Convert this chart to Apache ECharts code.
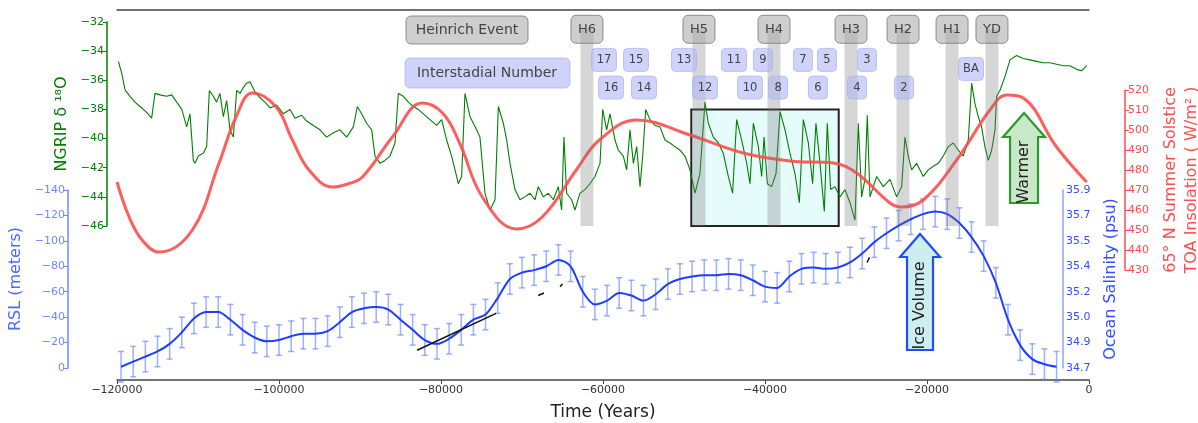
<!DOCTYPE html>
<html><head><meta charset="utf-8">
<script src="https://cdn.jsdelivr.net/npm/echarts@6/dist/echarts.min.js"></script>
<style>html,body{margin:0;padding:0;background:#fff}#c{width:1198px;height:423px}</style>
</head><body><div id="c"></div>
<script>
// ---------- DATA ----------
const ngripYears = [-119830,-119424,-119010,-118400,-117780,-117160,-116340,-115720,-115310,-114690,-113870,-113250,-112630,-112000,-111400,-110990,-110780,-110580,-110370,-109960,-109340,-108930,-108600,-108110,-107700,-107290,-106870,-106460,-106050,-105640,-105230,-104820,-104400,-104000,-103580,-102960,-102350,-101730,-101110,-100290,-99470,-98640,-98030,-97200,-96590,-95760,-94940,-94120,-93290,-92470,-91650,-90820,-90330,-89800,-89180,-88560,-88150,-87530,-86920,-86300,-85680,-85270,-84650,-84030,-83420,-82800,-82180,-81360,-80540,-79920,-79300,-78690,-78270,-77860,-77450,-77040,-76420,-75600,-75190,-74570,-73950,-73330,-72920,-72300,-71890,-71480,-70870,-70250,-69630,-69010,-68400,-67990,-67370,-66750,-66130,-65520,-65110,-64820,-64490,-63870,-63460,-62840,-62230,-61610,-60990,-60370,-60040,-59550,-59140,-58520,-58110,-57490,-57080,-56670,-56250,-55840,-55430,-55100,-54730,-54200,-53580,-52960,-52350,-51730,-51110,-50500,-49880,-49260,-48640,-48030,-47410,-47000,-46380,-45760,-45150,-44530,-44000,-43500,-42880,-42260,-41850,-41440,-40820,-40410,-40120,-39710,-39180,-38640,-38150,-37530,-36920,-36300,-35760,-35270,-34650,-34120,-33710,-33210,-32680,-32310,-31900,-31360,-30740,-30130,-29510,-28890,-28480,-28070,-27660,-27370,-27040,-26220,-25400,-24570,-23750,-23130,-22720,-22310,-21900,-21280,-20460,-19840,-19220,-18610,-17990,-17370,-16750,-16140,-15520,-14900,-14490,-14080,-13670,-13260,-12850,-12430,-12020,-11610,-11400,-11000,-10370,-9760,-8930,-8110,-7290,-6470,-5640,-4820,-4000,-3170,-2350,-1530,-910,-290];
const ngripValues = [-34.7,-35.5,-36.66,-37.1,-37.5,-37.8,-38.2,-38.6,-36.9,-37.0,-37.1,-37.0,-37.5,-38.0,-39.2,-38.3,-39.9,-41.5,-41.7,-41.2,-41.0,-40.55,-36.7,-37.1,-37.5,-36.9,-38.5,-37.4,-39.4,-39.9,-36.7,-36.9,-36.5,-36.2,-36.1,-36.8,-37.2,-37.5,-37.9,-37.7,-38.3,-38.0,-38.6,-38.4,-38.8,-39.1,-39.4,-39.9,-39.6,-39.4,-39.9,-39.2,-37.8,-38.3,-38.95,-39.4,-41.2,-41.7,-41.5,-41.2,-40.3,-36.9,-37.1,-37.5,-37.8,-38.0,-38.3,-38.7,-39.1,-38.7,-40.1,-41.2,-42.15,-43.1,-42.6,-36.9,-38.5,-39.4,-39.9,-43.75,-44.9,-44.2,-37.8,-38.95,-40.1,-41.7,-43.5,-44.2,-44.0,-43.75,-44.2,-43.3,-44.0,-43.75,-44.2,-43.3,-44.9,-39.9,-43.75,-44.2,-44.9,-43.75,-43.5,-43.1,-42.6,-41.7,-38.0,-39.4,-38.3,-40.1,-40.8,-41.2,-42.15,-39.4,-41.7,-40.55,-43.3,-41.2,-38.0,-38.7,-39.1,-39.2,-40.1,-40.3,-40.55,-40.8,-41.2,-42.15,-43.75,-42.4,-37.5,-38.95,-39.9,-40.3,-41.0,-42.6,-43.75,-38.7,-40.1,-41.7,-43.1,-38.95,-40.55,-42.6,-39.9,-43.1,-43.3,-42.4,-38.15,-39.4,-41.0,-42.4,-44.4,-38.7,-40.3,-43.1,-38.95,-41.7,-45.0,-38.95,-43.5,-43.3,-44.0,-43.5,-44.4,-45.6,-38.95,-44.0,-42.8,-38.4,-44.0,-42.6,-43.3,-42.8,-44.0,-43.3,-39.9,-41.2,-42.15,-41.7,-42.6,-42.15,-41.9,-41.7,-41.2,-40.55,-40.3,-40.8,-41.2,-40.1,-36.2,-37.6,-38.5,-39.2,-40.55,-41.5,-40.8,-39.4,-37.1,-36.7,-35.75,-34.6,-34.3,-34.5,-34.6,-34.7,-34.8,-34.8,-34.9,-35.0,-35.0,-35.25,-35.35,-35.0];

const insolYears = [-120000,-118500,-116900,-114800,-110700,-107400,-105300,-103300,-100350,-98350,-96300,-93400,-91500,-89700,-86000,-82300,-79800,-77700,-74900,-70700,-67500,-63300,-60450,-55850,-49260,-42680,-36900,-31570,-28690,-24570,-23130,-20460,-16340,-12230,-10170,-8110,-4000,-290];
const insolValues = [474,456.5,445,439,450,483.5,506.5,518.5,511.5,495,480,471.5,473,476.5,496.5,513.5,508.5,493.5,466.5,450.5,456.5,480,495,505,497.5,488.5,484.5,483.5,478.5,463.5,461.5,465,485,510,517.5,516,491.5,474];

const rslYears = [-119500,-118000,-116500,-115000,-113500,-112000,-110500,-109000,-107500,-106000,-104500,-103000,-101500,-100000,-98500,-97000,-95500,-94000,-92500,-91000,-89500,-88000,-86500,-85000,-83500,-82000,-80500,-79000,-77500,-76000,-74500,-73000,-71500,-70000,-68500,-67000,-65500,-64000,-62500,-61000,-59500,-58000,-56500,-55000,-53500,-52000,-50500,-49000,-47500,-46000,-44500,-43000,-41500,-40000,-38500,-37000,-35500,-34000,-32500,-31000,-29500,-28000,-26500,-25000,-23500,-22000,-20500,-19000,-17500,-16000,-14500,-13000,-11500,-10000,-8500,-7000,-5500,-4000];
const rslValues = [-1,-5,-9,-13,-19,-28,-39,-44,-44,-38,-30,-24,-21,-22,-25,-27,-27,-29,-36,-44,-47,-48,-46,-38,-30,-22,-19,-23,-30,-38,-42,-55,-70,-75,-77,-80,-85,-80,-60,-50,-53,-59,-57,-53,-58,-66,-70,-72,-73,-73,-74,-73,-69,-64,-63,-72,-78,-79,-78,-79,-83,-90,-99,-106,-112,-117,-121,-123,-121,-114,-103,-88,-67,-38,-18,-7,-3,-1];
const rslError = 12;

const salinityLabels = ['34.7','34.9','35.0','35.2','35.4','35.5','35.7','35.9'];

const heinrichNames = ['H6','H5','H4','H3','H2','H1','YD'];
const heinrichYears = [-61980,-48150,-38890,-29380,-22960,-16910,-11980];

const interstadialNames = ['17','15','13','11','9','7','5','3','16','14','12','10','8','6','4','2','BA'];
const interstadialYears = [-59880,-55930,-50000,-43830,-40250,-35310,-32350,-27410,-59010,-54940,-47410,-41850,-38390,-33460,-28640,-22840,-14570];
const interstadialRow = [1,1,1,1,1,1,1,1,2,2,2,2,2,2,2,2,3];

const boxYears = [-49100,-30900];
const boxNgrip = [-38,-46];

const blackSegments = [
  [[-82960,-14],[-73200,-43]],
  [[-68000,-57],[-67300,-59]],
  [[-65300,-64],[-65000,-66]],
  [[-27400,-83],[-27100,-87]]
];

// ---------- STYLE / LAYOUT ----------
const FONT = 'DejaVu Sans';
const L = 117, R = 109;
const GREEN = '#008000', RED = '#ff4d4d', BLUE = '#1f3cff';
const minus = v => String(v).replace('-', '\u2212');
const ROW_Y = {0: -32.5, 1: -34.6, 2: -36.5, 3: -35.22};
const BAND_HALF = 800;

const chart = echarts.init(document.getElementById('c'), null, {renderer: 'canvas'});

const hiddenX = i => ({type: 'value', gridIndex: i, min: -120000, max: 0, show: false});
const G = (top, height) => ({left: L, right: R, top: top, height: height, containLabel: false, outerBoundsMode: 'none'});

const option = {
  animation: false,
  textStyle: {fontFamily: FONT},
  grid: [G(22, 204), G(90, 180), G(190, 178), G(10, 370)],
  xAxis: [
    hiddenX(0), hiddenX(1), hiddenX(2),
    {type: 'value', gridIndex: 3, min: -120000, max: 0, interval: 20000, position: 'bottom',
      name: 'Time (Years)', nameLocation: 'middle', nameGap: 24,
      nameTextStyle: {fontSize: 17, color: '#222', fontFamily: FONT},
      axisLine: {onZero: false, lineStyle: {color: '#444', width: 1.5}},
      axisTick: {length: 4, lineStyle: {color: '#444'}},
      axisLabel: {fontSize: 11, color: '#333', margin: 5, formatter: minus, fontFamily: FONT},
      splitLine: {show: false}},
    {type: 'value', gridIndex: 3, min: -120000, max: 0, position: 'top',
      axisLine: {onZero: false, lineStyle: {color: '#444', width: 1.5}},
      axisTick: {show: false}, axisLabel: {show: false}, splitLine: {show: false}}
  ],
  yAxis: [
    {type: 'value', gridIndex: 0, min: -46, max: -32, interval: 2, position: 'left', offset: 10,
      name: 'NGRIP δ ¹⁸O', nameLocation: 'middle', nameRotate: 90, nameGap: 36,
      nameTextStyle: {fontSize: 16, color: GREEN, fontFamily: FONT},
      axisLine: {show: true, onZero: false, lineStyle: {color: GREEN, width: 1.5}},
      axisTick: {show: true, length: 4, lineStyle: {color: GREEN}},
      axisLabel: {fontSize: 11, color: GREEN, margin: 3, formatter: minus, fontFamily: FONT},
      splitLine: {show: false}},
    {type: 'value', gridIndex: 1, min: 430, max: 520, interval: 10, position: 'right', offset: 36,
      name: '65° N Summer Solstice\nTOA Insolation ( W/m² )', nameLocation: 'middle', nameRotate: 90, nameGap: 31,
      nameTextStyle: {fontSize: 16, color: RED, lineHeight: 21, fontFamily: FONT},
      axisLine: {show: true, onZero: false, lineStyle: {color: RED, width: 1.5}},
      axisTick: {show: true, length: 4, lineStyle: {color: RED}},
      axisLabel: {fontSize: 11, color: RED, margin: 3, fontFamily: FONT},
      splitLine: {show: false}},
    {type: 'value', gridIndex: 2, min: -140, max: 0, interval: 20, inverse: true, position: 'left', offset: 49,
      name: 'RSL (meters)', nameLocation: 'middle', nameRotate: 90, nameGap: 44,
      nameTextStyle: {fontSize: 16, color: '#4d6bff', fontFamily: FONT},
      axisLine: {show: true, onZero: false, lineStyle: {color: '#6f88ff', width: 1.5}},
      axisTick: {show: true, length: 4, lineStyle: {color: '#6f88ff'}},
      axisLabel: {fontSize: 11, color: '#6f88ff', margin: 3, formatter: minus, fontFamily: FONT},
      splitLine: {show: false}},
    {type: 'value', gridIndex: 2, min: -140, max: 0, interval: 20, inverse: true, position: 'right', offset: -26,
      name: 'Ocean Salinity (psu)', nameLocation: 'middle', nameRotate: 90, nameGap: 40,
      nameTextStyle: {fontSize: 16, color: '#3050ff', fontFamily: FONT},
      axisLine: {show: true, onZero: false, lineStyle: {color: '#8fa3ff', width: 1.5}},
      axisTick: {show: false},
      axisLabel: {fontSize: 11, color: '#3050ff', margin: 3, fontFamily: FONT,
        formatter: v => salinityLabels[Math.round(-v / 20)]},
      splitLine: {show: false}},
    {type: 'value', gridIndex: 3, show: false, min: 0, max: 1}
  ],
  series: [
    {type: 'line', name: 'ngrip', xAxisIndex: 0, yAxisIndex: 0, showSymbol: false, z: 2,
      data: ngripYears.map((y, i) => [y, ngripValues[i]]),
      lineStyle: {color: GREEN, width: 1.1},
      markArea: {silent: true, z: 1,
        itemStyle: {color: '#e6fcfc', borderColor: '#222', borderWidth: 2},
        data: [[{coord: [boxYears[0], boxNgrip[0]]}, {coord: [boxYears[1], boxNgrip[1]]}]]}},
    {type: 'line', name: 'insol', xAxisIndex: 1, yAxisIndex: 1, showSymbol: false, smooth: 0.4, z: 3,
      data: insolYears.map((y, i) => [y, insolValues[i]]),
      lineStyle: {color: RED, width: 3, opacity: 0.9}},
    {type: 'custom', name: 'rslErr', xAxisIndex: 2, yAxisIndex: 2, z: 3,
      data: rslYears.map((y, i) => [y, rslValues[i]]),
      renderItem: (params, api) => {
        const y = api.value(0), v = api.value(1);
        const a = api.coord([y, v - rslError]), b = api.coord([y, v + rslError]);
        const st = {stroke: 'rgba(90,125,255,0.6)', lineWidth: 1.5};
        return {type: 'group', children: [
          {type: 'line', shape: {x1: a[0], y1: a[1], x2: b[0], y2: b[1]}, style: st},
          {type: 'line', shape: {x1: a[0] - 3, y1: a[1], x2: a[0] + 3, y2: a[1]}, style: st},
          {type: 'line', shape: {x1: b[0] - 3, y1: b[1], x2: b[0] + 3, y2: b[1]}, style: st}
        ]};
      }},
    {type: 'line', name: 'rsl', xAxisIndex: 2, yAxisIndex: 2, showSymbol: false, smooth: 0.3, z: 4,
      data: rslYears.map((y, i) => [y, rslValues[i]]),
      lineStyle: {color: BLUE, width: 2}},
    ...blackSegments.map(seg => ({type: 'line', xAxisIndex: 2, yAxisIndex: 2, showSymbol: false, z: 5,
      data: seg, lineStyle: {color: '#111', width: 1.5}})),
    {type: 'custom', name: 'bands', xAxisIndex: 0, yAxisIndex: 0, z: 6,
      data: heinrichYears.map(y => [y]),
      renderItem: (params, api) => {
        const y = api.value(0);
        const a = api.coord([y - BAND_HALF, ROW_Y[0]]), b = api.coord([y + BAND_HALF, -46]);
        return {type: 'rect', shape: {x: a[0], y: a[1], width: b[0] - a[0], height: b[1] - a[1]},
          style: {fill: 'rgba(120,120,120,0.3)'}};
      }},
    {type: 'custom', name: 'hlabels', xAxisIndex: 0, yAxisIndex: 0, z: 7,
      data: heinrichYears.map((y, i) => [y, i]),
      renderItem: (params, api) => {
        const p = api.coord([api.value(0), ROW_Y[0]]);
        const w = 32, h = 28;
        return {type: 'group', children: [
          {type: 'rect', shape: {x: p[0] - w / 2, y: p[1] - h / 2, width: w, height: h, r: 5},
            style: {fill: 'rgba(165,165,165,0.55)', stroke: 'rgba(120,120,120,0.8)', lineWidth: 1}},
          {type: 'text', style: {text: heinrichNames[api.value(1)], x: p[0], y: p[1], align: 'center',
            verticalAlign: 'middle', fill: '#444', fontSize: 13, fontFamily: FONT}}
        ]};
      }},
    {type: 'custom', name: 'islabels', xAxisIndex: 0, yAxisIndex: 0, z: 8,
      data: interstadialYears.map((y, i) => [y, i]),
      renderItem: (params, api) => {
        const i = api.value(1);
        const p = api.coord([api.value(0), ROW_Y[interstadialRow[i]]]);
        const txt = interstadialNames[i];
        const w = txt.length > 1 ? 25 : 19, h = 23;
        return {type: 'group', children: [
          {type: 'rect', shape: {x: p[0] - w / 2, y: p[1] - h / 2, width: w, height: h, r: 4},
            style: {fill: 'rgba(175,182,245,0.6)', stroke: 'rgba(170,178,240,0.7)', lineWidth: 1}},
          {type: 'text', style: {text: txt, x: p[0], y: p[1], align: 'center',
            verticalAlign: 'middle', fill: '#444', fontSize: 11.5, fontFamily: FONT}}
        ]};
      }}
  ]
};
chart.setOption(option);

// ---------- ANNOTATIONS ----------
function arrow(year, tipY, headY, baseY, hw, sw, fill, stroke, label) {
  const cx = chart.convertToPixel({xAxisIndex: 0}, year);
  return [
    {type: 'polygon', z: 20, shape: {points: [[cx, tipY], [cx + hw, headY], [cx + sw, headY], [cx + sw, baseY],
      [cx - sw, baseY], [cx - sw, headY], [cx - hw, headY]]},
      style: {fill: fill, stroke: stroke, lineWidth: 2.2}},
    {type: 'text', z: 21, x: cx, y: (headY + baseY) / 2 + 2, rotation: Math.PI / 2,
      style: {text: label, align: 'center', verticalAlign: 'middle', fill: '#222', fontSize: 16, fontFamily: FONT}}
  ];
}
const graphics = [
  {type: 'rect', z: 20, shape: {x: 406, y: 16, width: 122, height: 28, r: 5},
    style: {fill: 'rgba(165,165,165,0.55)', stroke: 'rgba(120,120,120,0.8)', lineWidth: 1}},
  {type: 'text', z: 21, x: 467, y: 30, style: {text: 'Heinrich Event', align: 'center', verticalAlign: 'middle',
    fill: '#444', fontSize: 14, fontFamily: FONT}},
  {type: 'rect', z: 20, shape: {x: 405, y: 58, width: 165, height: 30, r: 5},
    style: {fill: 'rgba(175,182,245,0.6)', stroke: 'rgba(170,178,240,0.7)', lineWidth: 1}},
  {type: 'text', z: 21, x: 487, y: 73, style: {text: 'Interstadial Number', align: 'center', verticalAlign: 'middle',
    fill: '#444', fontSize: 14, fontFamily: FONT}},
  ...arrow(-8020, 113, 137, 203, 21, 14, '#c8e8c8', '#2e9a2e', 'Warmer'),
  ...arrow(-20860, 234, 257, 350, 20, 13, '#cdeeee', '#1f4cff', 'Ice Volume')
];
chart.setOption({graphic: graphics});
</script></body></html>
